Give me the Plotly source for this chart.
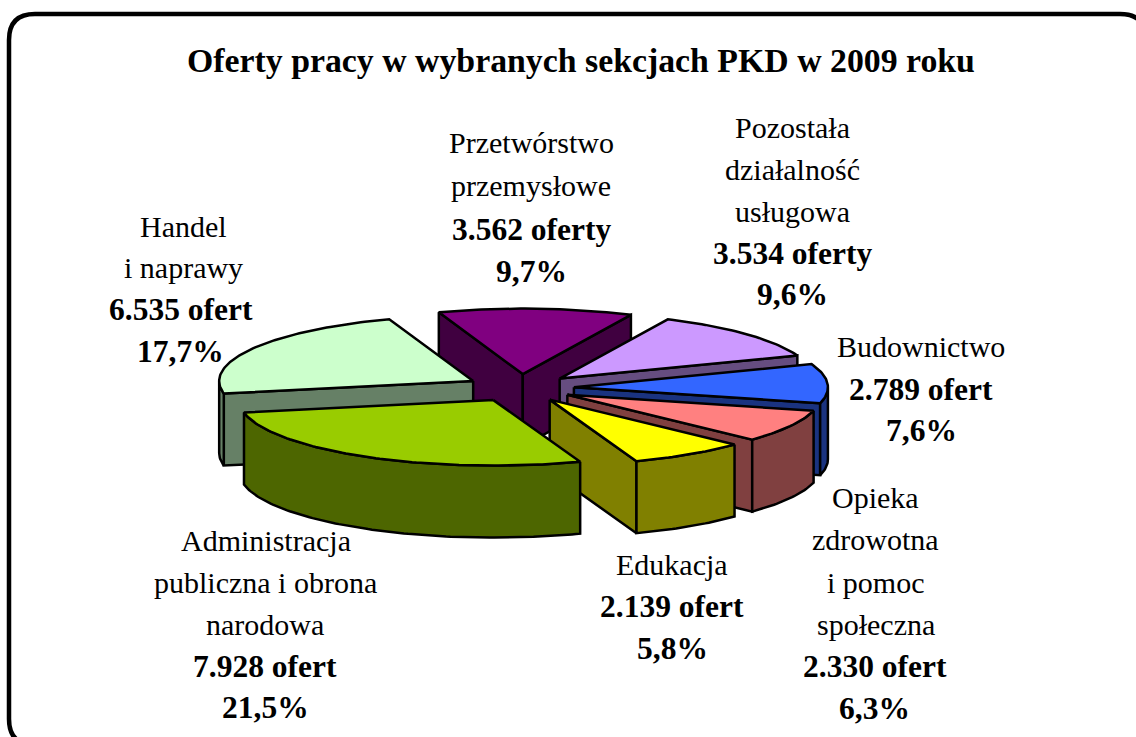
import numpy as np
import plotly.graph_objects as go

# Data, clockwise from the first slice
categories = ["Przetwórstwo\nprzemysłowe", "Pozostała\ndziałalność\nusługowa", "Budownictwo",
              "Opieka\nzdrowotna\ni pomoc\nspołeczna", "Edukacja",
              "Administracja\npubliczna i obrona\nnarodowa", "Handel\ni naprawy"]
offers = [3562, 3534, 2789, 2330, 2139, 7928, 6535]
offer_labels = ["3.562 oferty", "3.534 oferty", "2.789 ofert", "2.330 ofert", "2.139 ofert", "7.928 ofert", "6.535 ofert"]
percent_labels = ["9,7%", "9,6%", "7,6%", "6,3%", "5,8%", "21,5%", "17,7%"]
top_colors = ["#800080", "#CC99FF", "#3366FF", "#FF8080", "#FFFF00", "#99CC00", "#CCFFCC"]
side_colors = ["#400040", "#664D80", "#1A3380", "#804040", "#808000", "#4D6600", "#668066"]
title = "Oferty pracy w wybranych sekcjach PKD w 2009 roku"

# Label layout
label_x = [[531, 531, 531, 531], [792, 792, 792, 792, 792], [921, 921, 921],
           [875, 875, 876, 876, 875, 874], [672, 672, 672], [266, 265, 265, 265, 265], [183, 183, 181, 180]]
label_y = [[142, 185, 229, 271], [127, 169, 211, 253, 294], [346, 389, 430],
           [497, 539, 582, 624, 666, 708], [564, 606, 648], [540, 582, 624, 666, 707], [226, 267, 309, 351]]

# Projection of the 3D pie
CX, CY, RX, RY, DEPTH, EXPLODE = 520, 388, 254, 65.5, 72, 0.2126
START = -19.3
DRAW_ORDER = [0, 6, 1, 2, 3, 4, 5]
FONT = "Liberation Serif"

total = sum(offers)
edges = START + np.concatenate([[0], np.cumsum(offers) / total * 360])


def arc(a0, a1, cx, cy):
    t = np.radians(np.linspace(a0, a1, max(2, int(abs(a1 - a0)) + 2)))
    return cx + RX * np.sin(t), cy - RY * np.cos(t)


def poly(fig, xs, ys, color):
    fig.add_trace(go.Scatter(x=list(xs), y=list(ys), mode="lines", fill="toself", fillcolor=color,
                             line=dict(color="black", width=2.5), hoverinfo="skip", showlegend=False))


fig = go.Figure()
for i in DRAW_ORDER:
    a0, a1 = edges[i], edges[i + 1]
    mid = np.radians((a0 + a1) / 2)
    ax = CX + EXPLODE * RX * np.sin(mid)
    ay = CY - EXPLODE * RY * np.cos(mid)
    x0, y0 = ax + RX * np.sin(np.radians(a0)), ay - RY * np.cos(np.radians(a0))
    x1, y1 = ax + RX * np.sin(np.radians(a1)), ay - RY * np.cos(np.radians(a1))
    if np.sin(np.radians(a0)) < 0:  # leading radial wall faces the viewer
        poly(fig, [ax, x0, x0, ax, ax], [ay, y0, y0 + DEPTH, ay + DEPTH, ay], side_colors[i])
    if np.sin(np.radians(a1)) > 0:  # trailing radial wall faces the viewer
        poly(fig, [ax, x1, x1, ax, ax], [ay, y1, y1 + DEPTH, ay + DEPTH, ay], side_colors[i])
    # outer wall: the part of the rim on the near half of the ellipse
    for k in (0, 1):
        lo = max(a0, 90 + 360 * k)
        hi = min(a1, 270 + 360 * k)
        if lo < hi:
            rx, ry = arc(lo, hi, ax, ay)
            poly(fig, np.r_[rx, rx[::-1], rx[0]], np.r_[ry, ry[::-1] + DEPTH, ry[0]], side_colors[i])
    rx, ry = arc(a0, a1, ax, ay)
    poly(fig, np.r_[ax, rx, ax], np.r_[ay, ry, ay], top_colors[i])

annotations = [dict(x=580.5, y=60, text=f"<b>{title}</b>", showarrow=False, xanchor="center", yanchor="middle",
                    font=dict(family=FONT, size=33.8, color="black"))]
for i, cat in enumerate(categories):
    lines = [(s, 30) for s in cat.split("\n")] + [(f"<b>{offer_labels[i]}</b>", 31.5), (f"<b>{percent_labels[i]}</b>", 31.5)]
    for (line, size), x, y in zip(lines, label_x[i], label_y[i]):
        annotations.append(dict(x=x, y=y, text=line, showarrow=False, xanchor="center", yanchor="middle",
                                font=dict(family=FONT, size=size, color="black")))

L, T, R, B, r = 9, 14, 1146, 745, 26
frame = (f"M{L},{T + r} Q{L},{T} {L + r},{T} L{R - r},{T} Q{R},{T} {R},{T + r} "
         f"L{R},{B - r} Q{R},{B} {R - r},{B} L{L + r},{B} Q{L},{B} {L},{B - r} Z")

fig.update_layout(
    width=1136, height=737, margin=dict(l=0, r=0, t=0, b=0), paper_bgcolor="white", plot_bgcolor="white",
    xaxis=dict(range=[0, 1136], visible=False, fixedrange=True),
    yaxis=dict(range=[737, 0], visible=False, fixedrange=True),
    shapes=[dict(type="path", path=frame, xref="x", yref="y", line=dict(color="black", width=4.5), layer="below")],
    annotations=annotations,
)
fig.write_html("out.html", config={"displayModeBar": False},
               post_script="document.body.style.margin='0';document.documentElement.style.overflow='hidden';")
